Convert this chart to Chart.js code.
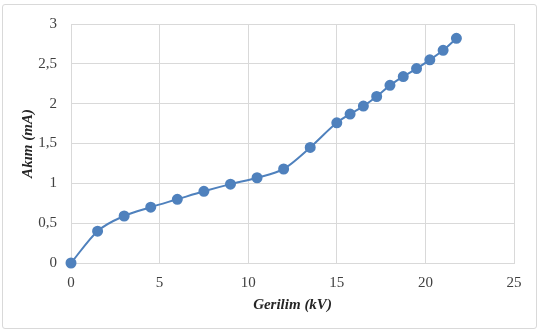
<!DOCTYPE html>
<html>
<head>
    <title>Gerilim - Akım</title>
    <script src="https://cdn.jsdelivr.net/npm/chart.js"></script>
    <style>
        body {
            margin: 0;
            background-color: white;
        }

        #chartBox {
            position: absolute;
            left: 2px;
            top: 4px;
            width: 535px;
            height: 325px;
            border: 1px solid #d9d9d9;
            border-radius: 3px;
            box-sizing: border-box;
        }
    </style>
</head>
<body>
    <div id="chartBox">
        <canvas id="ivChart"></canvas>
    </div>

    <script>
    // voltage (kV) and current (mA)
    const voltage = [0, 1.5, 3, 4.5, 6, 7.5, 9, 10.5, 12, 13.5, 15, 15.75, 16.5, 17.25, 18, 18.75, 19.5, 20.25, 21, 21.75];
    const current = [0, 0.4, 0.59, 0.7, 0.8, 0.9, 0.99, 1.07, 1.18, 1.45, 1.76, 1.87, 1.97, 2.09, 2.23, 2.34, 2.44, 2.55, 2.67, 2.82];

    const xTitle = 'Gerilim (kV)';
    const yTitle = 'Akım (mA)';

    const points = voltage.map((v, i) => ({ x: v, y: current[i] }));

    const blue = '#4f81bd';
    const gridColor = '#d9d9d9';
    const serif = '"Liberation Serif", "Times New Roman", serif';

    new Chart(document.getElementById('ivChart'), {
        type: 'scatter',
        data: {
            datasets: [{
                data: points,
                showLine: true,
                clip: false,
                borderColor: blue,
                backgroundColor: blue,
                borderWidth: 2,
                pointRadius: 4.5,
                pointHoverRadius: 4.5,
                cubicInterpolationMode: 'monotone'
            }]
        },
        options: {
            responsive: true,
            maintainAspectRatio: false,
            animation: false,
            layout: {
                padding: { left: 16, right: 22, top: 5, bottom: 14 }
            },
            plugins: {
                legend: { display: false },
                tooltip: { enabled: false }
            },
            scales: {
                x: {
                    type: 'linear',
                    min: 0,
                    max: 25,
                    afterFit: scale => { scale.height = 51; },
                    ticks: {
                        stepSize: 5,
                        color: '#404040',
                        padding: 11,
                        font: { family: serif, size: 15 }
                    },
                    grid: { color: gridColor, drawTicks: false },
                    border: { color: gridColor },
                    title: {
                        display: true,
                        text: xTitle,
                        color: '#262626',
                        font: { family: serif, size: 15, style: 'italic', weight: 'bold' },
                        padding: 0
                    }
                },
                y: {
                    min: 0,
                    max: 3,
                    afterFit: scale => {
                        scale.width = 52;
                        // tick padding would push the plot top down, keep it where the reference has it
                        scale.paddingTop = 19;
                        scale.paddingBottom = 9;
                    },
                    ticks: {
                        stepSize: 0.5,
                        color: '#404040',
                        padding: 14,
                        font: { family: serif, size: 15 },
                        callback: value => String(value).replace('.', ',')
                    },
                    grid: { color: gridColor, drawTicks: false },
                    border: { color: gridColor },
                    title: {
                        display: true,
                        text: yTitle,
                        color: '#262626',
                        font: { family: serif, size: 15, style: 'italic', weight: 'bold' },
                        padding: 0
                    }
                }
            }
        }
    });
    </script>
</body>
</html>
